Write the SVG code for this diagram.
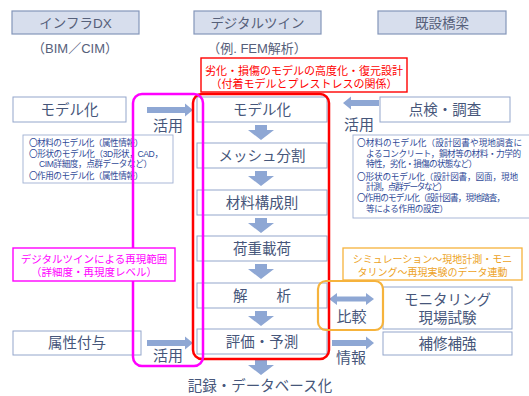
<svg xmlns="http://www.w3.org/2000/svg" width="529" height="396" viewBox="0 0 529 396">
<style>
text{font-family:"Liberation Sans","Noto Sans CJK JP",sans-serif;dominant-baseline:central;text-anchor:middle}
.hdr{fill:#d7deed;stroke:#8496ba;stroke-width:1.2}
.hdrt{font-size:13.5px;fill:#56607a}
.sub{font-size:13px;fill:#56607a}
.box{fill:#fff;stroke:#93a6cb;stroke-width:1}
.bt{font-size:14.5px;fill:#46567a}
.lst{fill:#fff;stroke:#9fb0d2;stroke-width:0.9}
.lt{font-size:8.6px;fill:#2f4a98;text-anchor:start}
.arr{fill:#8ea7d4}
.lab{font-size:15px;fill:#46567a}
.red{fill:#fff;stroke:#ff0000;stroke-width:1.4}
.redt{font-size:11px;fill:#ff0000}
.mag{fill:#fff;stroke:#ff00ff;stroke-width:1.4}
.magt{font-size:10.5px;fill:#ff00ff}
.org{fill:#fff;stroke:#f6b33c;stroke-width:1.3}
.orgt{font-size:10px;fill:#eda21d}
</style>

<g id="hdr-infradx"><rect class="hdr" x="12" y="11" width="127" height="23"/><text class="hdrt" x="75.5" y="23">インフラDX</text><text class="sub" x="75" y="48">（BIM／CIM）</text></g>
<g id="hdr-twin"><rect class="hdr" x="194" y="11" width="127" height="23"/><text class="hdrt" x="257.5" y="23">デジタルツイン</text><text class="sub" x="257" y="48">（例. FEM解析）</text></g>
<g id="hdr-bridge"><rect class="hdr" x="378" y="11" width="128" height="23"/><text class="hdrt" x="442" y="23">既設橋梁</text></g>

<g id="note-red"><rect class="red" x="201" y="58" width="206" height="34"/><text class="redt" x="304" y="70.5">劣化・損傷のモデルの高度化・復元設計</text><text class="redt" x="304" y="83.5">（付着モデルとプレストレスの関係）</text></g>

<g id="left-model"><rect class="box" x="13" y="97" width="113" height="25"/><text class="bt" x="69.5" y="109.5">モデル化</text></g>
<g id="left-list"><rect class="lst" x="23" y="135" width="150" height="48"/>
<text class="lt" x="29" y="143" textLength="114">〇材料のモデル化（属性情報）</text>
<text class="lt" x="29" y="153.5" textLength="134">〇形状のモデル化（3D形状，CAD，</text>
<text class="lt" x="39" y="164" textLength="113">CIM詳細度，点群データなど）</text>
<text class="lt" x="29" y="175.5" textLength="114">〇作用のモデル化（属性情報）</text></g>
<g id="left-attr"><rect class="box" x="13" y="331" width="128" height="24"/><text class="bt" x="77" y="343">属性付与</text></g>

<g id="right-insp"><rect class="box" x="380" y="97" width="130" height="25"/><text class="bt" x="445" y="109.5">点検・調査</text></g>
<g id="right-list"><rect class="lst" x="353" y="135" width="185" height="83"/>
<text class="lt" x="357" y="143" textLength="165">〇材料のモデル化（設計図書や現地調査に</text>
<text class="lt" x="366" y="153.5" textLength="155">よるコンクリート，鋼材等の材料・力学的</text>
<text class="lt" x="366" y="164" textLength="111">特性，劣化・損傷の状態など）</text>
<text class="lt" x="357" y="176.5" textLength="161">〇形状のモデル化（設計図書，図面，現地</text>
<text class="lt" x="366" y="187" textLength="81">計測，点群データなど）</text>
<text class="lt" x="357" y="198" textLength="148">〇作用のモデル化（設計図書，現地踏査，</text>
<text class="lt" x="366" y="208.5" textLength="82">等による作用の設定）</text></g>
<g id="right-monitor"><rect class="box" x="383" y="287" width="129" height="42"/><text class="bt" x="447.5" y="300">モニタリング</text><text class="bt" x="447.5" y="318">現場試験</text></g>
<g id="right-repair"><rect class="box" x="383" y="332" width="129" height="23"/><text class="bt" x="447.5" y="343.5">補修補強</text></g>

<g id="p1"><rect class="box" x="197" y="97" width="130" height="25"/><text class="bt" x="262" y="109.5">モデル化</text></g>
<g id="p2"><rect class="box" x="197" y="143" width="130" height="25"/><text class="bt" x="262" y="155.5">メッシュ分割</text></g>
<g id="p3"><rect class="box" x="197" y="190" width="130" height="25"/><text class="bt" x="262" y="202.5">材料構成則</text></g>
<g id="p4"><rect class="box" x="197" y="236" width="130" height="25"/><text class="bt" x="262" y="248.5">荷重載荷</text></g>
<g id="p5"><rect class="box" x="197" y="283" width="130" height="25"/><text class="bt" x="262" y="295.5" xml:space="preserve">解　　析</text></g>
<g id="p6"><rect class="box" x="197" y="329" width="130" height="25"/><text class="bt" x="262" y="341.5">評価・予測</text></g>
<g id="record"><text class="bt" x="260" y="386">記録・データベース化</text></g>

<g id="connectors">
<path class="arr" d="M255,125H267V130H274L261,140L248,130H255Z"/>
<path class="arr" d="M255,171H267V176H274L261,186L248,176H255Z"/>
<path class="arr" d="M255,218H267V223H274L261,233L248,223H255Z"/>
<path class="arr" d="M255,264H267V269H274L261,279L248,269H255Z"/>
<path class="arr" d="M255,311H267V316H274L261,326L248,316H255Z"/>
<path class="arr" d="M255,360H267V365H274L261,375L248,365H255Z"/>
<path class="arr" d="M147,107H185V103.5L193,110L185,116.5V113H147Z"/>
<path class="arr" d="M147,340H185V336.5L193,343L185,349.5V346H147Z"/>
<path class="arr" d="M379,100H351V96.5L343,103L351,109.5V106H379Z"/>
<path class="arr" d="M329,299L337,293V296.5H366V293L374,299L366,305V301.5H337V305Z"/>
<path class="arr" d="M332,340H366V336.5L374,343L366,349.5V346H332Z"/>
</g>

<g id="labels">
<text class="lab" x="168" y="125">活用</text>
<text class="lab" x="168" y="355.5">活用</text>
<text class="lab" x="359" y="124">活用</text>
<text class="lab" x="351.5" y="316">比較</text>
<text class="lab" x="351" y="357">情報</text>
</g>

<g id="range-red"><rect x="193" y="94" width="136" height="265" rx="9" fill="none" stroke="#ff0000" stroke-width="2.5"/></g>
<g id="range-magenta"><rect x="133" y="94" width="70" height="272" rx="9" fill="none" stroke="#ff00ff" stroke-width="2.5"/></g>
<g id="note-magenta"><rect class="mag" x="13" y="248" width="162" height="33"/><text class="magt" x="94" y="259">デジタルツインによる再現範囲</text><text class="magt" x="94" y="272">（詳細度・再現度レベル）</text></g>
<g id="compare-orange"><rect x="318" y="281" width="65" height="49" rx="8" fill="none" stroke="#f6b33c" stroke-width="2.2"/></g>
<g id="note-orange"><rect class="org" x="343" y="248" width="179" height="32"/><text class="orgt" x="432.5" y="259">シミュレーション～現地計測・モニ</text><text class="orgt" x="432.5" y="272.5">タリング～再現実験のデータ連動</text></g>
</svg>
